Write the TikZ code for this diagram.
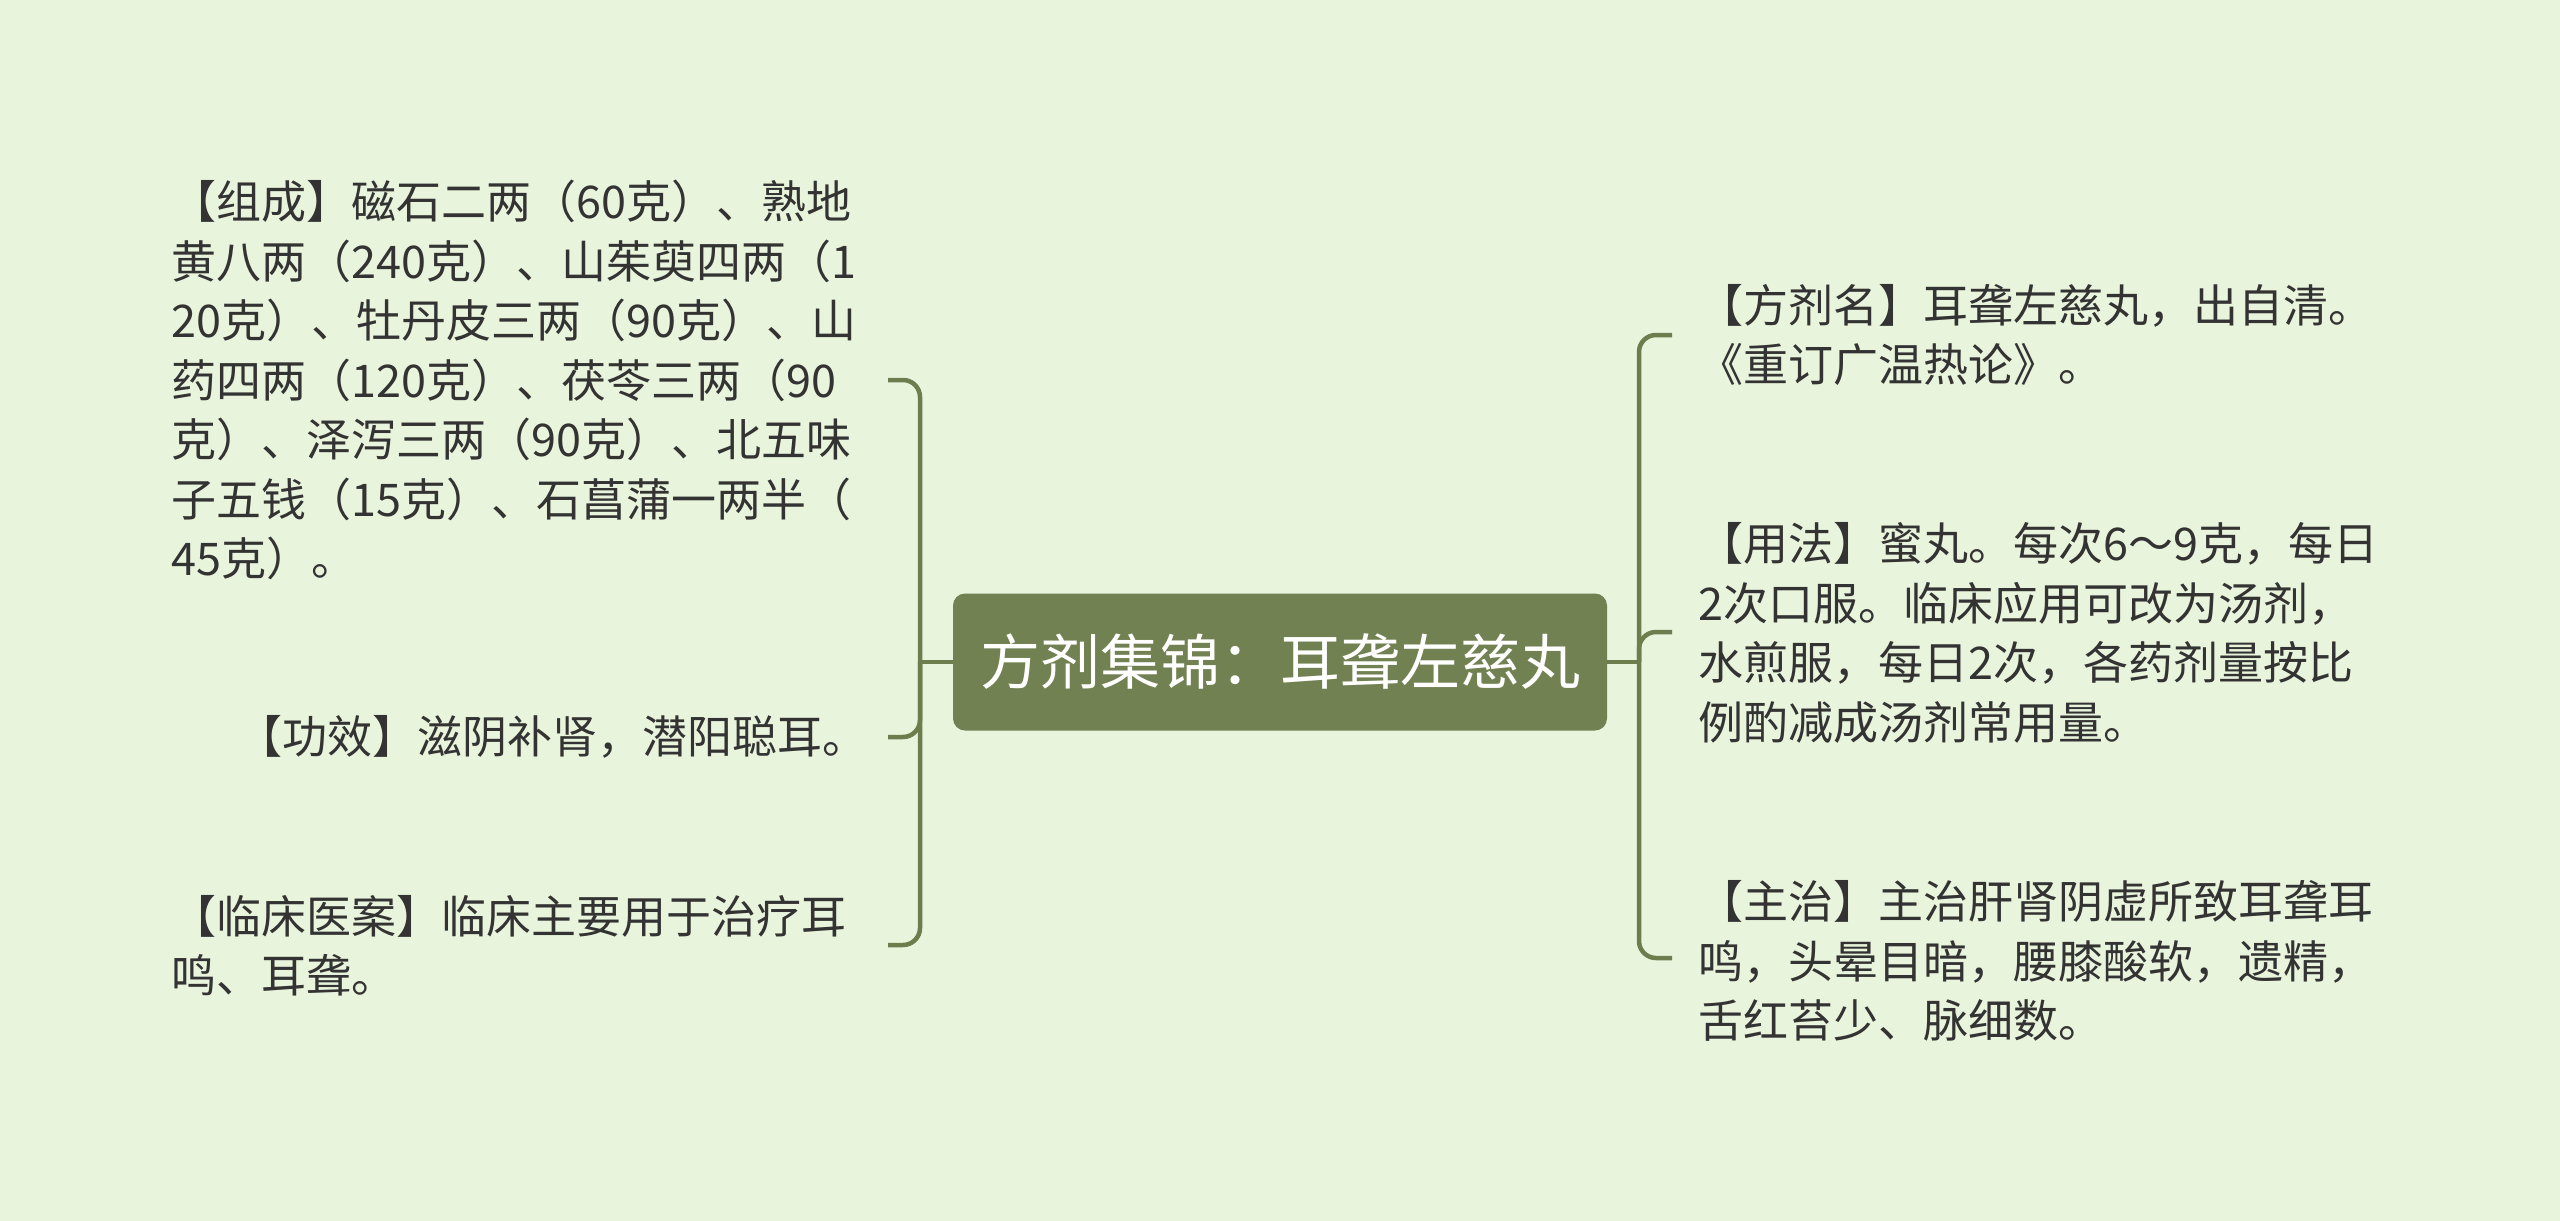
\documentclass[tikz,border=0pt]{standalone}
\usepackage{fontspec}
\newfontfamily\cjk{Noto Sans CJK SC}
\definecolor{bgc}{HTML}{E8F4DC}
\definecolor{boxc}{HTML}{718152}
\definecolor{linec}{HTML}{6D7D4D}
\definecolor{txtc}{HTML}{333333}
\tikzset{
  conn/.style={draw=linec, line width=4.5pt, rounded corners=17pt},
  leaf/.style={inner sep=0pt, align=left, text=txtc, font=\cjk\fontsize{45}{59.5}\selectfont},
  rootbox/.style={fill=boxc, rounded corners=12pt, minimum width=654pt, minimum height=137pt, inner sep=0pt, text=white, font=\cjk\fontsize{60}{72}\selectfont}
}
\begin{document}
\begin{tikzpicture}[x=1pt,y=-1pt]
\useasboundingbox (0,0) rectangle (2560,1221);
\fill[bgc] (0,0) rectangle (2560,1221);

\node[rootbox] (root) at (1280,662) {方剂集锦：耳聋左慈丸};

% left leaves
\node[leaf, anchor=west] (zucheng) at (171,380) {【组成】磁石二两（60克）、熟地\\黄八两（240克）、山茱萸四两（1\\20克）、牡丹皮三两（90克）、山\\药四两（120克）、茯苓三两（90\\克）、泽泻三两（90克）、北五味\\子五钱（15克）、石菖蒲一两半（\\45克）。};
\node[leaf, anchor=east] (gongxiao) at (868,737) {【功效】滋阴补肾，潜阳聪耳。};
\node[leaf, anchor=west] (linchuang) at (171,946) {【临床医案】临床主要用于治疗耳\\鸣、耳聋。};

% right leaves
\node[leaf, anchor=west] (fangji) at (1698,335) {【方剂名】耳聋左慈丸，出自清。\\《重订广温热论》。};
\node[leaf, anchor=west] (yongfa) at (1698,633) {【用法】蜜丸。每次6～9克，每日\\2次口服。临床应用可改为汤剂，\\水煎服，每日2次，各药剂量按比\\例酌减成汤剂常用量。};
\node[leaf, anchor=west] (zhuzhi) at (1698,961) {【主治】主治肝肾阴虚所致耳聋耳\\鸣，头晕目暗，腰膝酸软，遗精，\\舌红苔少、脉细数。};

% connector endpoints
\coordinate (LT) at (920,662);
\coordinate (L1) at (888,380);
\coordinate (L2) at (888,737);
\coordinate (L3) at (888,945);
\coordinate (RT) at (1639,662);
\coordinate (R1) at (1672,335);
\coordinate (R2) at (1672,632);
\coordinate (R3) at (1672,958);

\draw[conn] (root.west) -- (LT);
\draw[conn] (LT) |- (L1);
\draw[conn] (LT) |- (L2);
\draw[conn] (LT) |- (L3);
\draw[conn] (root.east) -- (RT);
\draw[conn] (RT) |- (R1);
\draw[conn] (RT) |- (R2);
\draw[conn] (RT) |- (R3);
\end{tikzpicture}
\end{document}
